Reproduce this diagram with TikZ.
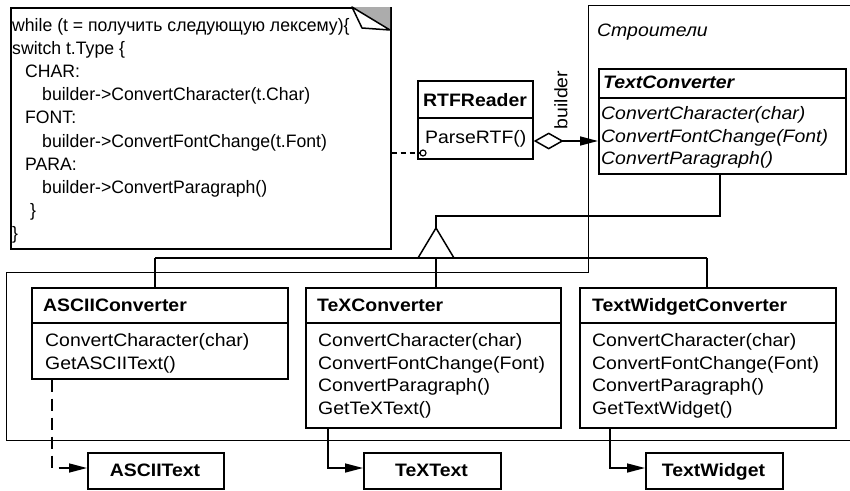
\documentclass[tikz,border=0pt]{standalone}
\usepackage{fontspec}
\setmainfont{Liberation Sans}[FakeStretch=1.08]
\newfontfamily\notefont{Liberation Sans}[FakeStretch=0.98]
\usetikzlibrary{arrows.meta}
\newcommand\dgfs{\fontsize{18}{22}\selectfont}
\begin{document}
\begin{tikzpicture}[x=1pt,y=-1pt,
  box/.style={draw, line width=1.7pt, inner sep=0pt, anchor=north west},
  sep/.style={line width=1.5pt},
  region/.style={line width=0.8pt},
  link/.style={line width=1.5pt},
  mtd/.style={inner sep=0pt, anchor=base west, font=\dgfs},
  imtd/.style={inner sep=0pt, anchor=base west, font=\dgfs\itshape},
  ttl/.style={inner sep=0pt, anchor=base west, font=\dgfs\bfseries},
  ctl/.style={inner sep=0pt, anchor=base, font=\dgfs\bfseries},
  nt/.style={inner sep=0pt, anchor=base west, font=\notefont\dgfs},
  tip/.style={-{Triangle[length=18pt,width=9pt]}}
]
\useasboundingbox (0,0) rectangle (850,490);
% package region "Строители"
\coordinate (r1) at (850,5);
\coordinate (r2) at (588,5);
\coordinate (r3) at (588,272);
\coordinate (r4) at (6,272);
\coordinate (r5) at (6,440);
\coordinate (r6) at (850,440);
\draw[region] (r1) -- (r2) -- (r3) -- (r4) -- (r5) -- (r6);
\node[inner sep=0pt, anchor=base west, font=\dgfs\itshape] (pkg) at (597,36) {Строители};

% note
\node[box, minimum width=380pt, minimum height=241pt] (note) at (10,7) {};
\coordinate (f1) at (352,7);
\coordinate (f2) at (390,7);
\coordinate (f3) at (390,30);
\coordinate (f4) at (362,28);
\fill[gray!65] (f1) -- (f2) -- (f3) -- cycle;
\draw[sep, fill=white, line join=round] (f1) -- (f4) -- (f3) -- cycle;
\node[nt] (l0) at (12,31.5) {while (t = получить следующую лексему)\{};
\node[nt] (l1) at (12,54.6) {switch t.Type \{};
\node[nt] (l2) at (25,77.7) {CHAR:};
\node[nt] (l3) at (42,100.8) {builder->ConvertCharacter(t.Char)};
\node[nt] (l4) at (25,123.9) {FONT:};
\node[nt] (l5) at (42,147) {builder->ConvertFontChange(t.Font)};
\node[nt] (l6) at (25,170.1) {PARA:};
\node[nt] (l7) at (42,193.2) {builder->ConvertParagraph()};
\node[nt] (l8) at (30,216.3) {\}};
\node[nt] (l9) at (12,239.4) {\}};

% RTFReader
\node[box, minimum width=115pt, minimum height=78pt] (rtf) at (417,80) {};
\draw[sep] (rtf.west |- 0,118) -- (rtf.east |- 0,118);
\node[ttl] (rtfT) at (423,106.5) {RTFReader};
\node[mtd] (rtfM) at (425,143.5) {ParseRTF()};
\node[circle, draw, line width=1.2pt, inner sep=0pt, minimum size=6pt] (circ) at (423,153) {};
\coordinate (nr) at (note.east |- circ);
\draw[link, dash pattern=on 5pt off 4pt] (nr) -- (circ);

% TextConverter
\node[box, minimum width=247pt, minimum height=105pt] (tc) at (598,68) {};
\draw[sep] (tc.west |- 0,98) -- (tc.east |- 0,98);
\node[ttl, font=\dgfs\bfseries\itshape] (tcT) at (603,88.5) {TextConverter};
\node[imtd] (tc1) at (601,119.5) {ConvertCharacter(char)};
\node[imtd] (tc2) at (601,142) {ConvertFontChange(Font)};
\node[imtd] (tc3) at (601,164.5) {ConvertParagraph()};

% aggregation
\coordinate (ra) at (rtf.east |- 0,141);
\coordinate (ta) at (tc.west |- 0,141);
\draw[link, {Diamond[open, length=30pt, width=17pt, line width=1.5pt]}-{Triangle[length=18pt,width=9pt]}] (ra) -- (ta);
\node[inner sep=0pt, font=\dgfs, rotate=90] (bl) at (561,100) {builder};

% converters
\node[box, minimum width=256pt, minimum height=91pt] (asc) at (31,287) {};
\draw[sep] (asc.west |- 0,323) -- (asc.east |- 0,323);
\node[ttl] (ascT) at (43,311.5) {ASCIIConverter};
\node[mtd] (asc1) at (45,346.5) {ConvertCharacter(char)};
\node[mtd] (asc2) at (45,369) {GetASCIIText()};

\node[box, minimum width=255pt, minimum height=140pt] (tex) at (305,287) {};
\draw[sep] (tex.west |- 0,323) -- (tex.east |- 0,323);
\node[ttl] (texT) at (317,311.5) {TeXConverter};
\node[mtd] (tex1) at (318,346.5) {ConvertCharacter(char)};
\node[mtd] (tex2) at (318,369) {ConvertFontChange(Font)};
\node[mtd] (tex3) at (318,391.5) {ConvertParagraph()};
\node[mtd] (tex4) at (318,414) {GetTeXText()};

\node[box, minimum width=256pt, minimum height=140pt] (tw) at (579,287) {};
\draw[sep] (tw.west |- 0,323) -- (tw.east |- 0,323);
\node[ttl] (twT) at (592,311.5) {TextWidgetConverter};
\node[mtd] (tw1) at (592,346.5) {ConvertCharacter(char)};
\node[mtd] (tw2) at (592,369) {ConvertFontChange(Font)};
\node[mtd] (tw3) at (592,391.5) {ConvertParagraph()};
\node[mtd] (tw4) at (592,414) {GetTextWidget()};

% products
\node[box, minimum width=136pt, minimum height=36pt] (at) at (87,452) {};
\node[ctl] (atT) at (155,476) {ASCIIText};
\node[box, minimum width=137pt, minimum height=36pt] (tt) at (363,452) {};
\node[ctl] (ttT) at (431.5,476) {TeXText};
\node[box, minimum width=137pt, minimum height=36pt] (wt) at (645,452) {};
\node[ctl] (wtT) at (713.5,476) {TextWidget};

% inheritance
\coordinate (tcb) at (720,173);
\coordinate (h1) at (720,216);
\coordinate (apex) at (436,228);
\coordinate (bl1) at (418,258);
\coordinate (bl2) at (454,258);
\coordinate (ha) at (155,258);
\coordinate (hw) at (707,258);
\draw[link] (tcb) -- (h1) -| (apex);
\draw[link, line join=miter] (apex) -- (bl1) -- (bl2) -- cycle;
\draw[link] (ha) -- (hw);
\draw[link] (ha) -- (ha |- asc.north);
\draw[link] (apex |- 0,258) -- (apex |- tex.north);
\draw[link] (hw) -- (hw |- tw.north);

% dependencies
\draw[link, tip, dash pattern=on 12pt off 7pt] (asc.south -| 52,0) |- (at.west |- 0,468);
\draw[link, tip] (tex.south -| 328,0) |- (tt.west |- 0,468);
\draw[link, tip] (tw.south -| 610,0) |- (wt.west |- 0,468);
\end{tikzpicture}
\end{document}
